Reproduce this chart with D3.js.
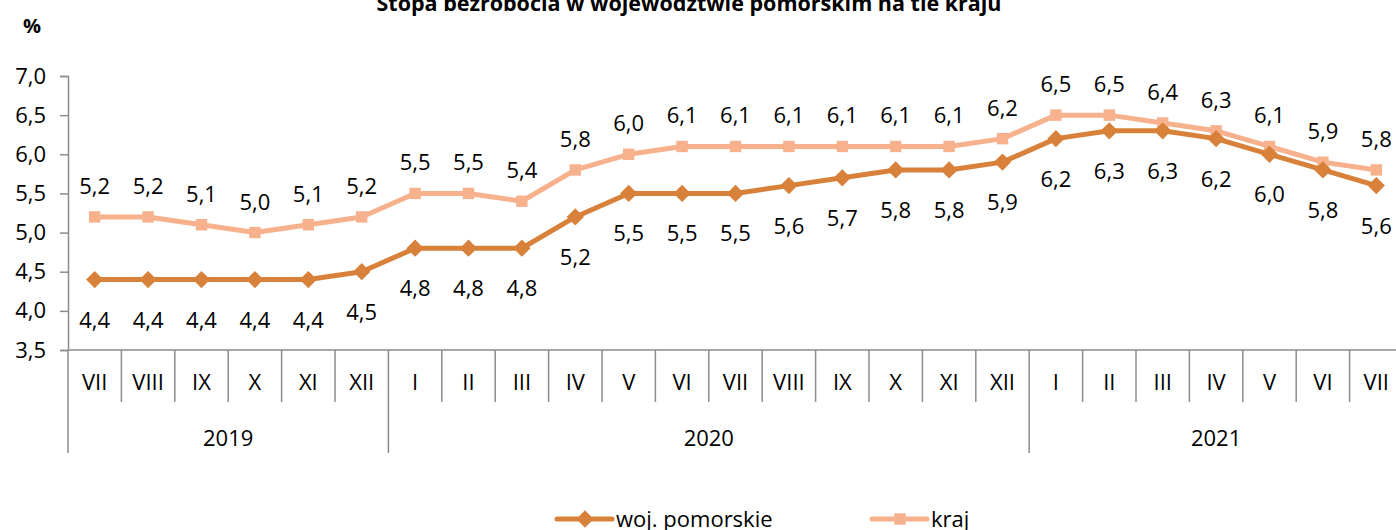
<!DOCTYPE html>
<html>
<head>
<meta charset="utf-8">
<script src="https://cdn.jsdelivr.net/npm/d3@7"></script>
<style>
  body { margin: 0; background: #fff; }
  svg { display: block; font-family: "Open Sans", "Noto Sans", sans-serif; }
</style>
</head>
<body>
<div id="chart"></div>
<script>
const months = ["VII", "VIII", "IX", "X", "XI", "XII",
  "I", "II", "III", "IV", "V", "VI", "VII", "VIII", "IX", "X", "XI", "XII",
  "I", "II", "III", "IV", "V", "VI", "VII"];
const years = [
  {label: "2019", start: 0, end: 6},
  {label: "2020", start: 6, end: 18},
  {label: "2021", start: 18, end: 25}
];
const pomorskie = [4.4, 4.4, 4.4, 4.4, 4.4, 4.5, 4.8, 4.8, 4.8, 5.2, 5.5, 5.5, 5.5,
  5.6, 5.7, 5.8, 5.8, 5.9, 6.2, 6.3, 6.3, 6.2, 6.0, 5.8, 5.6];
const kraj = [5.2, 5.2, 5.1, 5.0, 5.1, 5.2, 5.5, 5.5, 5.4, 5.8, 6.0, 6.1, 6.1,
  6.1, 6.1, 6.1, 6.1, 6.2, 6.5, 6.5, 6.4, 6.3, 6.1, 5.9, 5.8];
const yTicks = [3.5, 4.0, 4.5, 5.0, 5.5, 6.0, 6.5, 7.0];

const config = {width: 1396, height: 530, left: 68, right: 1403, top: 76, bottom: 350};
const colPom = "#d8813a";
const colKraj = "#f7b18d";
const axisCol = "#8c8c8c";

const fmt = v => d3.format(".1f")(v).replace(".", ",");

const svg = d3.select("#chart").append("svg")
  .attr("width", config.width)
  .attr("height", config.height);

const x = d3.scaleBand()
  .domain(d3.range(months.length))
  .range([config.left, config.right])
  .padding(0);

const y = d3.scaleLinear()
  .domain([3.5, 7.0])
  .range([config.bottom, config.top]);

// title + unit
svg.append("text")
  .attr("x", 689)
  .attr("y", 11)
  .attr("text-anchor", "middle")
  .attr("font-weight", "bold")
  .attr("font-size", 21.5)
  .text("Stopa bezrobocia w województwie pomorskim na tle kraju");

svg.append("text")
  .attr("x", 23)
  .attr("y", 33)
  .attr("font-weight", "bold")
  .attr("font-size", 20)
  .text("%");

// y axis
const yAxis = d3.axisLeft(y)
  .tickValues(yTicks)
  .tickSize(8)
  .tickPadding(14)
  .tickFormat(fmt);

const gy = svg.append("g")
  .attr("transform", `translate(${config.left},0)`)
  .call(yAxis);
gy.select(".domain").attr("stroke", axisCol).attr("stroke-width", 1.5);
gy.selectAll(".tick line").attr("stroke", axisCol).attr("stroke-width", 1.5);
gy.selectAll(".tick text")
  .attr("font-size", 22)
  .attr("fill", "#000")
  .attr("font-family", "'Open Sans', sans-serif");

// x axis: month labels
const xAxis = d3.axisBottom(x)
  .tickSize(0)
  .tickPadding(24)
  .tickFormat(i => months[i]);

const gx = svg.append("g")
  .attr("transform", `translate(0,${config.bottom})`)
  .call(xAxis);
gx.select(".domain").remove();
gx.selectAll(".tick text")
  .attr("font-size", 22)
  .attr("fill", "#000")
  .attr("font-family", "'Open Sans', sans-serif");

svg.append("line")
  .attr("x1", config.left).attr("x2", config.right)
  .attr("y1", config.bottom).attr("y2", config.bottom)
  .attr("stroke", axisCol).attr("stroke-width", 1.5);

// month separators
const yearStarts = years.map(d => d.start);
svg.append("g").selectAll("line")
  .data(d3.range(months.length + 1))
  .join("line")
  .attr("x1", i => i < months.length ? x(i) : config.right)
  .attr("x2", i => i < months.length ? x(i) : config.right)
  .attr("y1", config.bottom)
  .attr("y2", i => yearStarts.includes(i) ? config.bottom + 103 : config.bottom + 52)
  .attr("stroke", axisCol)
  .attr("stroke-width", 1.5);

// year labels
svg.append("g").selectAll("text")
  .data(years)
  .join("text")
  .attr("x", d => (x(d.start) + (d.end < months.length ? x(d.end) : config.right)) / 2)
  .attr("y", config.bottom + 96)
  .attr("text-anchor", "middle")
  .attr("font-size", 22)
  .text(d => d.label);

// series
const series = [
  {name: "woj. pomorskie", values: pomorskie, color: colPom, marker: "diamond", labelDy: 48},
  {name: "kraj", values: kraj, color: colKraj, marker: "square", labelDy: -23}
];

const line = d3.line()
  .x((d, i) => x(i) + x.bandwidth() / 2)
  .y(d => y(d));

const diamond = d3.symbol().type(d3.symbolDiamond2).size(190);
const square = d3.symbol().type(d3.symbolSquare).size(130);

// draw kraj first so pomorskie sits on top
series.slice().reverse().forEach(s => {
  const g = svg.append("g");
  g.append("path")
    .datum(s.values)
    .attr("fill", "none")
    .attr("stroke", s.color)
    .attr("stroke-width", 5)
    .attr("stroke-linejoin", "round")
    .attr("d", line);

  g.selectAll(".pt")
    .data(s.values)
    .join("path")
    .attr("class", "pt")
    .attr("transform", (d, i) => `translate(${x(i) + x.bandwidth() / 2},${y(d)})`)
    .attr("d", s.marker === "diamond" ? diamond() : square())
    .attr("fill", s.color);
});

series.forEach(s => {
  svg.append("g").selectAll("text")
    .data(s.values)
    .join("text")
    .attr("x", (d, i) => x(i) + x.bandwidth() / 2)
    .attr("y", d => y(d) + s.labelDy)
    .attr("text-anchor", "middle")
    .attr("font-size", 22)
    .text(fmt);
});

// legend
const legendX = [557, 872];
const legend = svg.append("g");
series.forEach((s, i) => {
  const lg = legend.append("g").attr("transform", `translate(${legendX[i]},519)`);
  lg.append("line")
    .attr("x1", 0).attr("x2", 55)
    .attr("stroke", s.color)
    .attr("stroke-width", 5)
    .attr("stroke-linecap", "round");
  lg.append("path")
    .attr("transform", "translate(28,0)")
    .attr("d", s.marker === "diamond" ? diamond() : square())
    .attr("fill", s.color);
  lg.append("text")
    .attr("x", 59)
    .attr("y", 8)
    .attr("font-size", 22)
    .text(s.name);
});
</script>
</body>
</html>
